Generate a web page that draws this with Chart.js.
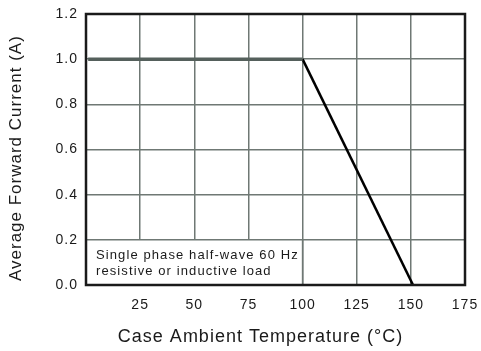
<!DOCTYPE html>
<html>
<head>
<meta charset="utf-8">
<script src="https://cdn.jsdelivr.net/npm/chart.js@4/dist/chart.umd.min.js"></script>
<style>
  html, body { margin: 0; padding: 0; background: #fff; }
  #wrap { width: 481px; height: 351px; }
</style>
</head>
<body>
<div id="wrap"><canvas id="chart" width="481" height="351"></canvas></div>
<script>
// ── data ──
const flatTemp = [1, 100];
const flatCurrent = [1.0, 1.0];
const slopeTemp = [100, 151];
const slopeCurrent = [1.0, 0.0];
const xTicks = [25, 50, 75, 100, 125, 150, 175];
const noteLines = ['Single phase half-wave 60 Hz', 'resistive or inductive load'];
const noteBox = { x0: 0, x1: 100, y0: 0, y1: 0.2 };

const FONT = "'Liberation Sans', Arial, sans-serif";
const GRID = '#6f7874';
const INK = '#1a1a1a';
const NBSP = '\u00a0';

const toPoints = (xs, ys) => xs.map((x, i) => ({ x, y: ys[i] }));

// the original lettering is loosely spaced
const spacingPlugin = {
  id: 'spacing',
  beforeLayout(chart) { chart.ctx.letterSpacing = '1px'; },
  beforeDraw(chart) { chart.ctx.letterSpacing = '1px'; },
};

// white note box over the grid, bordered like the grid
const notePlugin = {
  id: 'note',
  beforeDatasetsDraw(chart) {
    const { ctx, scales: { x, y } } = chart;
    const l = x.getPixelForValue(noteBox.x0), r = x.getPixelForValue(noteBox.x1);
    const t = y.getPixelForValue(noteBox.y1), b = y.getPixelForValue(noteBox.y0);
    ctx.save();
    ctx.fillStyle = '#fff';
    ctx.fillRect(l, t, r - l, b - t);
    ctx.strokeStyle = GRID;
    ctx.lineWidth = 1.5;
    ctx.beginPath();
    ctx.moveTo(l, t); ctx.lineTo(r, t); ctx.lineTo(r, b);
    ctx.stroke();
    ctx.fillStyle = INK;
    ctx.font = '13px ' + FONT;
    ctx.letterSpacing = '1.1px';
    ctx.textBaseline = 'middle';
    ctx.fillText(noteLines[0], l + 10, t + 16);
    ctx.fillText(noteLines[1], l + 10, t + 32);
    ctx.restore();
  },
  afterDatasetsDraw(chart) {
    const { ctx, chartArea: a } = chart;
    ctx.save();
    ctx.strokeStyle = INK;
    ctx.lineWidth = 2.5;
    ctx.strokeRect(a.left, a.top, a.right - a.left, a.bottom - a.top);
    ctx.restore();
  }
};

new Chart(document.getElementById('chart'), {
  type: 'scatter',
  data: {
    datasets: [
      {
        data: toPoints(flatTemp, flatCurrent),
        showLine: true,
        borderColor: '#55605c',
        borderWidth: 3.5,
        pointRadius: 0,
      },
      {
        data: toPoints(slopeTemp, slopeCurrent),
        showLine: true,
        borderColor: '#000',
        borderWidth: 2.5,
        pointRadius: 0,
      },
    ],
  },
  options: {
    responsive: false,
    animation: false,
    layout: { padding: { top: 14, right: 16, left: 0, bottom: 0 } },
    plugins: { legend: { display: false }, tooltip: { enabled: false } },
    scales: {
      x: {
        type: 'linear',
        min: 0,
        max: 175,
        afterBuildTicks: s => { s.ticks = [0, ...xTicks].map(v => ({ value: v })); },
        afterFit: s => { s.height = 66; s.paddingLeft = 0; s.paddingRight = 0; },
        grid: { color: GRID, lineWidth: 1.5, drawTicks: false },
        border: { display: false },
        ticks: {
          padding: 12,
          color: INK,
          font: { family: FONT, size: 14 },
          callback: v => (v === 0 ? '' : v),
        },
        title: {
          display: true,
          // trailing spaces nudge the title left, as in the original
          text: 'Case Ambient Temperature (°C)' + NBSP.repeat(5),
          color: INK,
          font: { family: FONT, size: 18 },
          padding: { top: 0, bottom: 3 },
        },
      },
      y: {
        min: 0,
        max: 1.2,
        afterFit: s => { s.width = 86; s.paddingTop = 0; s.paddingBottom = 0; },
        grid: { color: GRID, lineWidth: 1.5, drawTicks: false },
        border: { display: false },
        ticks: {
          stepSize: 0.2,
          padding: 8,
          color: INK,
          font: { family: FONT, size: 14 },
          callback: v => v.toFixed(1),
        },
        title: {
          display: true,
          text: 'Average Forward Current (A)' + NBSP.repeat(3),
          color: INK,
          font: { family: FONT, size: 17 },
          padding: { top: 6, bottom: 0 },
        },
      },
    },
  },
  plugins: [spacingPlugin, notePlugin],
});
</script>
</body>
</html>
